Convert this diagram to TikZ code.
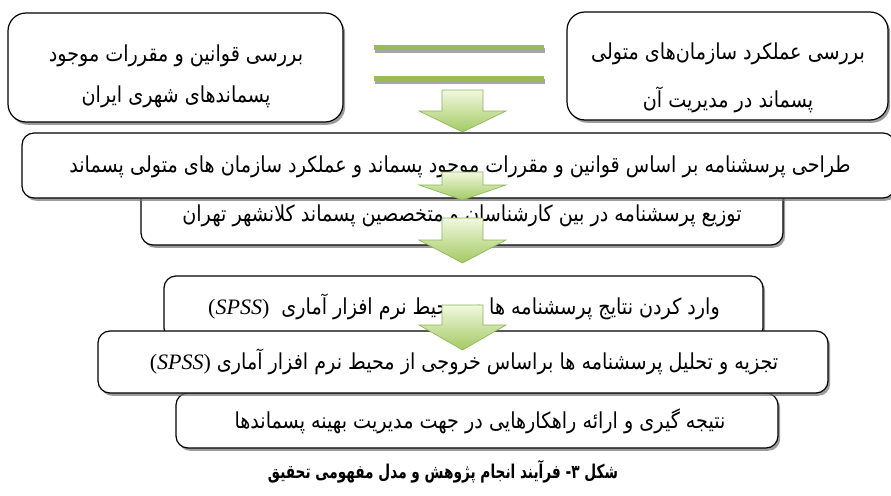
\documentclass[tikz,border=0pt]{standalone}
\usepackage{fontspec}
\setmainfont{DejaVu Sans}
\newfontfamily\fa[Script=Arabic, FakeStretch=0.87]{DejaVu Sans}
\newfontfamily\facap[Script=Arabic, FakeStretch=0.72]{DejaVu Sans}
\newfontfamily\lat{Liberation Serif}
\TeXXeTstate=1
\usetikzlibrary{shadows}
\definecolor{barg}{HTML}{9BBB59}
\definecolor{barsh}{HTML}{A6A6A6}
\definecolor{arrtop}{HTML}{F1F8DF}
\definecolor{arrbot}{HTML}{A3CA62}
\definecolor{arredge}{HTML}{8DB357}
\newcommand{\grnarrow}[3]{%
  \shade[top color=arrtop, bottom color=arrbot, draw=arredge, line width=0.6pt, line join=miter]
    (442,#1) -- (483,#1) -- (483,#2) -- (506,#2) -- (462.5,#3) -- (419,#2) -- (442,#2) -- cycle;}
\newcommand{\spss}{\beginL{\lat(\textit{SPSS})}\endL}
\begin{document}
\begin{tikzpicture}[x=1pt,y=-1pt,
  box/.style={draw=black, line width=1.2pt, fill=white, rounded corners=12pt,
    inner sep=0pt, outer sep=0pt,
    drop shadow={shadow xshift=2.2pt, shadow yshift=-2.8pt, fill=black!55, opacity=0.7}},
  bigbox/.style={box, rounded corners=18pt},
  txt/.style={font={\fa\fontsize{22}{25}\selectfont}, inner sep=0pt},
  captext/.style={font={\facap\bfseries\fontsize{19}{22}\selectfont}, inner sep=0pt}]
\useasboundingbox (0,0) rectangle (891,495);
\fill[white] (0,0) rectangle (891,495);
% lower chain boxes
\node[box, minimum width=642pt, minimum height=60pt] (b4) at (462,215) {};
\node[box, minimum width=873pt, minimum height=65pt] (b3) at (458.5,165.5) {};
\node[box, minimum width=599pt, minimum height=64pt] (b5) at (463.5,308) {};
\node[box, minimum width=602pt, minimum height=55pt] (b7) at (477,420.5) {};
\node[box, minimum width=730pt, minimum height=62pt] (b6) at (463,362) {};
% top boxes
\node[bigbox, minimum width=335pt, minimum height=109pt] (tl) at (175.5,67.5) {};
\node[bigbox, minimum width=321pt, minimum height=108pt] (tr) at (727.5,66) {};
% green bars
\fill[barsh] (375,48) rectangle (545,53);
\fill[barg] (374,45) rectangle (544,50);
\fill[barsh] (375,79) rectangle (545,84);
\fill[barg] (374,76) rectangle (544,81);
% texts
\node[txt] (tl1) at (176,56) {\beginR بررسی قوانین و مقررات موجود\endR};
\node[txt] (tl2) at (176,97) {\beginR پسماندهای شهری ایران\endR};
\node[txt] (tr1) at (728,54) {\beginR بررسی عملکرد سازمان‌های متولی\endR};
\node[txt] (tr2) at (728,100) {\beginR پسماند در مدیریت آن\endR};
\node[txt] (t3) at (460,167) {\beginR طراحی پرسشنامه بر اساس قوانین و مقررات موجود پسماند و عملکرد سازمان های متولی پسماند\endR};
\node[txt] (t4) at (462,216) {\beginR توزیع پرسشنامه در بین کارشناسان و متخصصین پسماند کلانشهر تهران\endR};
\node[txt] (t5) at (464,307) {\beginR وارد کردن نتایج پرسشنامه ها در محیط نرم افزار آماری\ \ \spss\endR};
\node[txt] (t6) at (464,362) {\beginR تجزیه و تحلیل پرسشنامه ها براساس خروجی از محیط نرم افزار آماری \spss\endR};
\node[txt] (t7) at (480,421) {\beginR نتیجه گیری و ارائه راهکارهایی در جهت مدیریت بهینه پسماندها\endR};
\node[captext] (cap) at (443,472) {\beginR شکل ۳- فرآیند انجام پژوهش و مدل مفهومی تحقیق\endR};
% arrows
\grnarrow{90}{111}{132}
\grnarrow{172}{185}{200}
\grnarrow{218}{240}{263}
\grnarrow{305}{325}{350}
\end{tikzpicture}
\end{document}
